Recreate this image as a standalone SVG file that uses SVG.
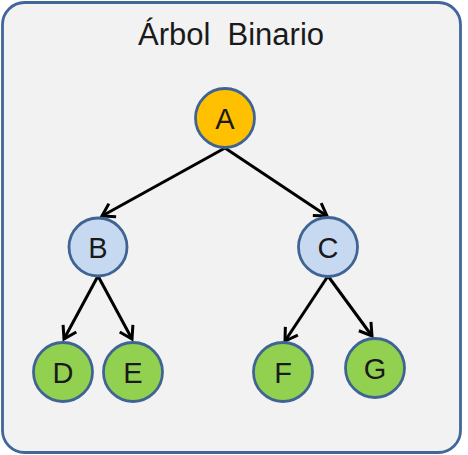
<svg xmlns="http://www.w3.org/2000/svg" width="468" height="455" viewBox="0 0 468 455">
<defs>
<style>
.node circle{stroke:#3F6494;stroke-width:2.8}
.a{fill:#FFC000}
.bl{fill:#C6D9F1}
.gr{fill:#92D050}
.lbl{font-family:"Liberation Sans",Arial,sans-serif;font-size:29px;fill:#1a1a1a;text-anchor:middle}
.edge{stroke:#000;stroke-width:3;fill:none;marker-end:url(#arr)}
</style>
<marker id="arr" markerUnits="userSpaceOnUse" markerWidth="22" markerHeight="22" viewBox="-16 -11 18 22" refX="0" refY="0" orient="auto">
<path d="M-12,-7.5 L0,0 L-12,7.5" fill="none" stroke="#000" stroke-width="3" stroke-linejoin="miter"/>
</marker>
</defs>
<rect width="468" height="455" fill="#ffffff"/>
<rect id="frame" x="2.5" y="2.5" width="458" height="450" rx="22" ry="22" fill="#F2F2F2" stroke="#41679A" stroke-width="2.8"/>
<text x="231" y="45" class="lbl" style="font-size:31px" xml:space="preserve">Árbol  Binario</text>
<g id="connectors">
<line class="edge" x1="225" y1="148" x2="102" y2="216"/>
<line class="edge" x1="225" y1="148" x2="327" y2="216"/>
<line class="edge" x1="98" y1="276" x2="64" y2="339"/>
<line class="edge" x1="98" y1="276" x2="132" y2="339"/>
<line class="edge" x1="328" y1="276" x2="285" y2="341"/>
<line class="edge" x1="328" y1="276" x2="372" y2="336"/>
</g>
<g id="node-A" class="node"><circle class="a" cx="225" cy="118" r="29.5"/><text class="lbl" x="225" y="129">A</text></g>
<g id="node-B" class="node"><circle class="bl" cx="98" cy="247" r="29"/><text class="lbl" x="98" y="258">B</text></g>
<g id="node-C" class="node"><circle class="bl" cx="328" cy="247" r="29.5"/><text class="lbl" x="328" y="258">C</text></g>
<g id="node-D" class="node"><circle class="gr" cx="63" cy="372" r="29.5"/><text class="lbl" x="63" y="383">D</text></g>
<g id="node-E" class="node"><circle class="gr" cx="133" cy="372" r="29.5"/><text class="lbl" x="133" y="383">E</text></g>
<g id="node-F" class="node"><circle class="gr" cx="283" cy="372" r="29.5"/><text class="lbl" x="283" y="383">F</text></g>
<g id="node-G" class="node"><circle class="gr" cx="375" cy="368" r="29.5"/><text class="lbl" x="375" y="379">G</text></g>
</svg>
